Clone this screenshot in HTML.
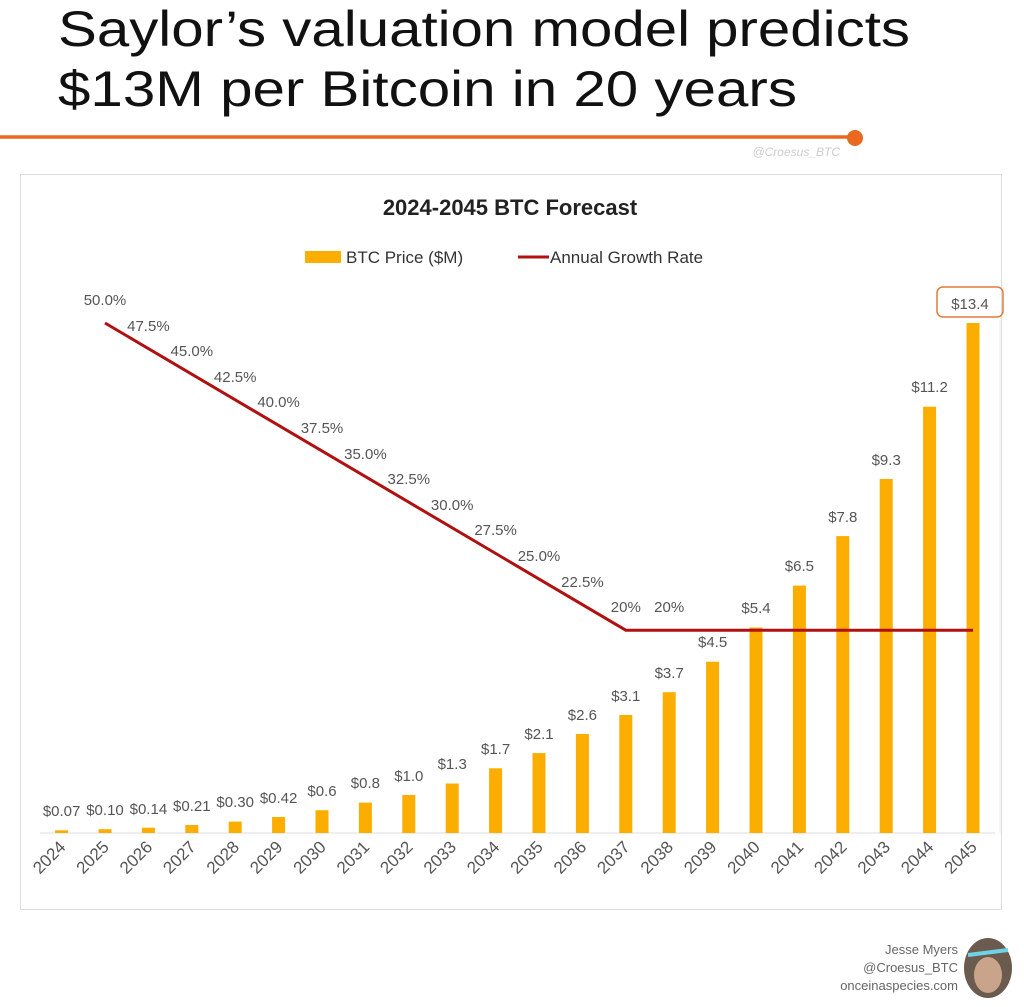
<!DOCTYPE html>
<html><head><meta charset="utf-8"><style>
html,body{margin:0;padding:0;background:#fff;}
body{width:1024px;height:1002px;overflow:hidden;position:relative;font-family:"Liberation Sans",sans-serif;}
</style></head><body>
<svg width="1024" height="1002" viewBox="0 0 1024 1002" xmlns="http://www.w3.org/2000/svg" font-family="Liberation Sans, sans-serif">
<text x="58" y="46" font-size="50" fill="#111" textLength="852" lengthAdjust="spacingAndGlyphs">Saylor’s valuation model predicts</text>
<text x="58" y="106" font-size="50" fill="#111" textLength="739" lengthAdjust="spacingAndGlyphs">$13M per Bitcoin in 20 years</text>
<line x1="0" y1="137" x2="855" y2="137" stroke="#e8691f" stroke-width="3.5"/>
<circle cx="855" cy="138" r="8" fill="#e8691f"/>
<text x="840" y="156" font-size="12" fill="#ccc" font-style="italic" text-anchor="end">@Croesus_BTC</text>
<rect x="20.5" y="174.5" width="981" height="735" fill="#fff" stroke="#ddd"/>
<text x="510" y="215" font-size="22" font-weight="bold" text-anchor="middle" fill="#222">2024-2045 BTC Forecast</text>
<rect x="305" y="251" width="36" height="12" fill="#fbad00"/>
<text x="346" y="263" font-size="17" fill="#333">BTC Price ($M)</text>
<line x1="518" y1="257" x2="549" y2="257" stroke="#b01010" stroke-width="3"/>
<text x="550" y="263" font-size="17" fill="#333">Annual Growth Rate</text>
<line x1="40" y1="833" x2="995" y2="833" stroke="#ddd" stroke-width="1"/>
<line x1="1000" y1="320" x2="1000" y2="833" stroke="#eee" stroke-width="1"/>
<g fill="#fbad00">
<rect x="55.1" y="830.3" width="13" height="2.7"/>
<rect x="98.5" y="829.2" width="13" height="3.8"/>
<rect x="141.9" y="827.7" width="13" height="5.3"/>
<rect x="185.3" y="825" width="13" height="8"/>
<rect x="228.7" y="821.6" width="13" height="11.4"/>
<rect x="272.1" y="817" width="13" height="16"/>
<rect x="315.5" y="810.2" width="13" height="22.8"/>
<rect x="358.9" y="802.6" width="13" height="30.4"/>
<rect x="402.3" y="795" width="13" height="38"/>
<rect x="445.7" y="783.5" width="13" height="49.5"/>
<rect x="489.1" y="768.3" width="13" height="64.7"/>
<rect x="532.5" y="753.1" width="13" height="79.9"/>
<rect x="575.9" y="734" width="13" height="99"/>
<rect x="619.3" y="715" width="13" height="118"/>
<rect x="662.7" y="692.2" width="13" height="140.8"/>
<rect x="706.1" y="661.7" width="13" height="171.3"/>
<rect x="749.5" y="627.5" width="13" height="205.5"/>
<rect x="792.9" y="585.6" width="13" height="247.4"/>
<rect x="836.3" y="536.1" width="13" height="296.9"/>
<rect x="879.7" y="479" width="13" height="354"/>
<rect x="923.1" y="406.7" width="13" height="426.3"/>
<rect x="966.5" y="323" width="13" height="510"/>
</g>
<polyline points="105,323 625.8,630.2 973,630.2" fill="none" stroke="#b01010" stroke-width="3"/>
<g font-size="15" fill="#555" text-anchor="middle">
<text x="61.6" y="816">$0.07</text>
<text x="105" y="815">$0.10</text>
<text x="148.4" y="814">$0.14</text>
<text x="191.8" y="811">$0.21</text>
<text x="235.2" y="807">$0.30</text>
<text x="278.6" y="803">$0.42</text>
<text x="322" y="796">$0.6</text>
<text x="365.4" y="788">$0.8</text>
<text x="408.8" y="781">$1.0</text>
<text x="452.2" y="769">$1.3</text>
<text x="495.6" y="754">$1.7</text>
<text x="539" y="739">$2.1</text>
<text x="582.4" y="720">$2.6</text>
<text x="625.8" y="701">$3.1</text>
<text x="669.2" y="678">$3.7</text>
<text x="712.6" y="647">$4.5</text>
<text x="756" y="613">$5.4</text>
<text x="799.4" y="571">$6.5</text>
<text x="842.8" y="522">$7.8</text>
<text x="886.2" y="465">$9.3</text>
<text x="929.6" y="392">$11.2</text>
<text x="970" y="309">$13.4</text>
</g>
<rect x="937" y="287" width="66" height="30" rx="6" fill="none" stroke="#e07a3a" stroke-width="1.5"/>
<g font-size="15" fill="#555" text-anchor="middle">
<text x="105" y="305">50.0%</text>
<text x="148.4" y="331">47.5%</text>
<text x="191.8" y="356">45.0%</text>
<text x="235.2" y="382">42.5%</text>
<text x="278.6" y="407">40.0%</text>
<text x="322" y="433">37.5%</text>
<text x="365.4" y="459">35.0%</text>
<text x="408.8" y="484">32.5%</text>
<text x="452.2" y="510">30.0%</text>
<text x="495.6" y="535">27.5%</text>
<text x="539" y="561">25.0%</text>
<text x="582.4" y="587">22.5%</text>
<text x="625.8" y="612">20%</text>
<text x="669.2" y="612">20%</text>
</g>
<g font-size="17" fill="#555" text-anchor="end">
<text transform="translate(66.6,848) rotate(-45)">2024</text>
<text transform="translate(110,848) rotate(-45)">2025</text>
<text transform="translate(153.4,848) rotate(-45)">2026</text>
<text transform="translate(196.8,848) rotate(-45)">2027</text>
<text transform="translate(240.2,848) rotate(-45)">2028</text>
<text transform="translate(283.6,848) rotate(-45)">2029</text>
<text transform="translate(327,848) rotate(-45)">2030</text>
<text transform="translate(370.4,848) rotate(-45)">2031</text>
<text transform="translate(413.8,848) rotate(-45)">2032</text>
<text transform="translate(457.2,848) rotate(-45)">2033</text>
<text transform="translate(500.6,848) rotate(-45)">2034</text>
<text transform="translate(544,848) rotate(-45)">2035</text>
<text transform="translate(587.4,848) rotate(-45)">2036</text>
<text transform="translate(630.8,848) rotate(-45)">2037</text>
<text transform="translate(674.2,848) rotate(-45)">2038</text>
<text transform="translate(717.6,848) rotate(-45)">2039</text>
<text transform="translate(761,848) rotate(-45)">2040</text>
<text transform="translate(804.4,848) rotate(-45)">2041</text>
<text transform="translate(847.8,848) rotate(-45)">2042</text>
<text transform="translate(891.2,848) rotate(-45)">2043</text>
<text transform="translate(934.6,848) rotate(-45)">2044</text>
<text transform="translate(978,848) rotate(-45)">2045</text>
</g>
<g font-size="13" fill="#666" text-anchor="end">
<text x="958" y="954">Jesse Myers</text>
<text x="958" y="972">@Croesus_BTC</text>
<text x="958" y="990">onceinaspecies.com</text>
</g>
<ellipse cx="988" cy="968" rx="24" ry="30" fill="#6b5a4e"/>
<ellipse cx="988" cy="975" rx="14" ry="18" fill="#c9a48a"/>
<line x1="968" y1="955" x2="1008" y2="950" stroke="#6fd3e8" stroke-width="4"/>
</svg>
</body></html>
